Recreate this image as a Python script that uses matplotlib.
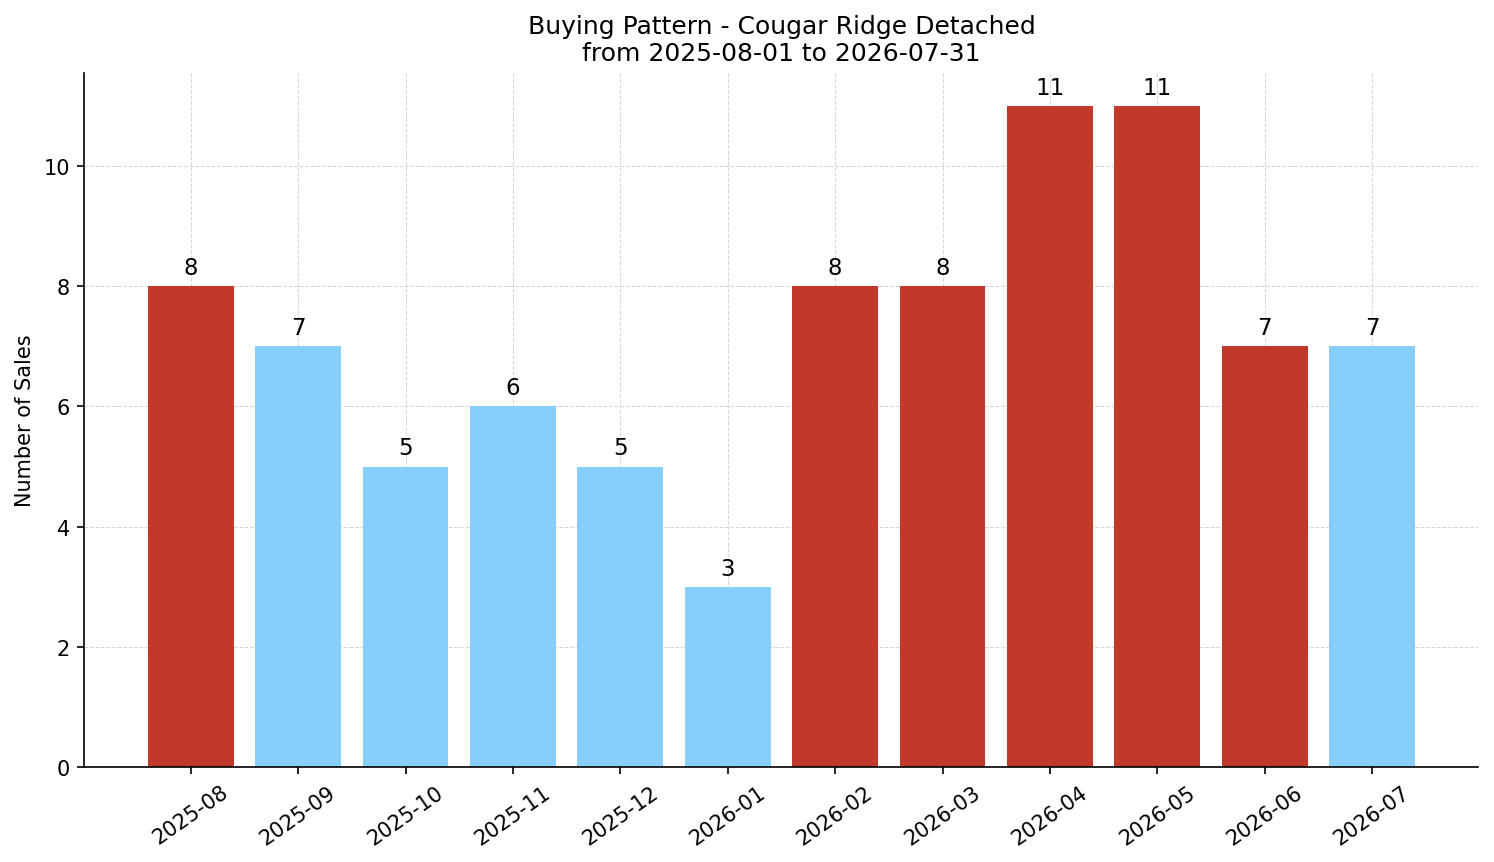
import matplotlib
matplotlib.use("Agg")
from matplotlib import pyplot as plt
import numpy as np

# data
months = ['2025-08', '2025-09', '2025-10', '2025-11', '2025-12', '2026-01',
          '2026-02', '2026-03', '2026-04', '2026-05', '2026-06', '2026-07']
sales = [8, 7, 5, 6, 5, 3, 8, 8, 11, 11, 7, 7]
hot = [True, False, False, False, False, False, True, True, True, True, True, False]

RED = '#c0392b'
BLUE = '#87cefa'
colors = [RED if h else BLUE for h in hot]

fig, ax = plt.subplots(figsize=(9.96, 5.7533), dpi=150)
x = np.arange(len(months))
bars = ax.bar(x, sales, color=colors, width=0.8, zorder=2)

for b, v in zip(bars, sales):
    ax.text(b.get_x() + b.get_width() / 2, v + 0.12, str(v),
            ha='center', va='bottom', fontsize=11)

ax.set_xticks(x)
ax.set_xticklabels(months, rotation=35)
ax.set_ylabel('Number of Sales')
ax.set_title('Buying Pattern - Cougar Ridge Detached\nfrom 2025-08-01 to 2026-07-31', fontsize=12)
ax.grid(True, linestyle='--', linewidth=0.5, color='#cccccc', alpha=0.8, zorder=0)
ax.set_axisbelow(True)
ax.spines['top'].set_visible(False)
ax.spines['right'].set_visible(False)

fig.subplots_adjust(left=0.0565, right=0.9896, top=0.9143, bottom=0.1101)
fig.savefig('out.png', dpi=150)
